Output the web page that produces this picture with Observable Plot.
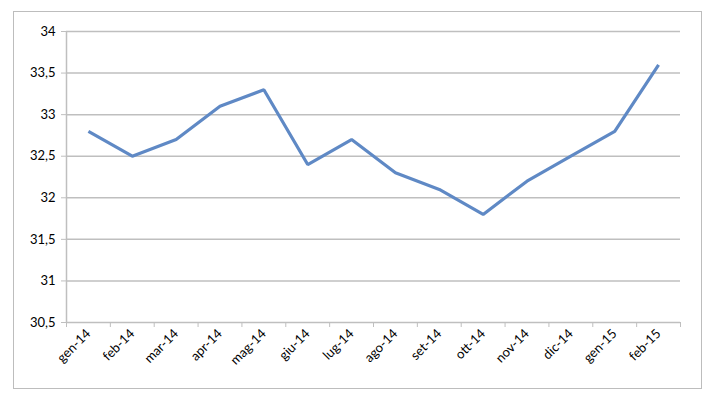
<!DOCTYPE html>
<html>
<head>
<meta charset="utf-8">
<script src="https://cdn.jsdelivr.net/npm/d3@7"></script>
<script src="https://cdn.jsdelivr.net/npm/@observablehq/plot@0.6"></script>
<style>
  html, body { margin: 0; padding: 0; background: #fff; }
  #wrap { position: relative; width: 713px; height: 399px; }
  #border { position: absolute; left: 13px; top: 11px; width: 687px; height: 376px; border: 1px solid #BDBDBD; pointer-events: none; }
</style>
</head>
<body>
<div id="wrap"><div id="border"></div></div>
<script>
const months = ["gen-14","feb-14","mar-14","apr-14","mag-14","giu-14","lug-14","ago-14","set-14","ott-14","nov-14","dic-14","gen-15","feb-15"];
const values = [32.8, 32.5, 32.7, 33.1, 33.3, 32.4, 32.7, 32.3, 32.1, 31.8, 32.2, 32.5, 32.8, 33.6];
const yTicks = [30.5, 31, 31.5, 32, 32.5, 33, 33.5, 34];

const data = months.map((m, i) => ({m, i, v: values[i]}));
const boundaries = d3.range(months.length + 1);
const centers = months.map((_, i) => i + 0.5);
const fmt = d => String(d).replace(".", ",");

const chart = Plot.plot({
  width: 713,
  height: 399,
  marginLeft: 66,
  marginRight: 33,
  marginTop: 31,
  marginBottom: 77,
  style: {fontFamily: "Lato, 'Open Sans', sans-serif", fontSize: "13px", color: "#000", background: "transparent"},
  x: {type: "linear", domain: [0, months.length]},
  y: {domain: [30.5, 34]},
  marks: [
    Plot.ruleY(yTicks.filter(t => t > 30.5), {stroke: "#BFBFBF", strokeWidth: 1.5, strokeOpacity: 1}),
    Plot.ruleY([30.5], {stroke: "#BFBFBF", strokeWidth: 1.5}),
    Plot.ruleX([0], {stroke: "#BFBFBF", strokeWidth: 1.5}),
    Plot.axisY({ticks: yTicks, tickFormat: fmt, tickSize: 5, tickPadding: 6, stroke: "#BFBFBF", fontSize: 13, label: null}),
    Plot.axisX({ticks: boundaries, tickFormat: () => "", tickSize: 5, stroke: "#BFBFBF", label: null}),
    Plot.axisX({ticks: centers, tickFormat: d => months[Math.round(d - 0.5)], tickSize: 0, tickPadding: 9, tickRotate: -45, fontSize: 13, label: null}),
    Plot.line(data, {x: d => d.i + 0.5, y: "v", stroke: "#5F89C5", strokeWidth: 3.2, strokeLinejoin: "miter", strokeLinecap: "butt"})
  ]
});
document.getElementById("wrap").prepend(chart);
</script>
</body>
</html>
